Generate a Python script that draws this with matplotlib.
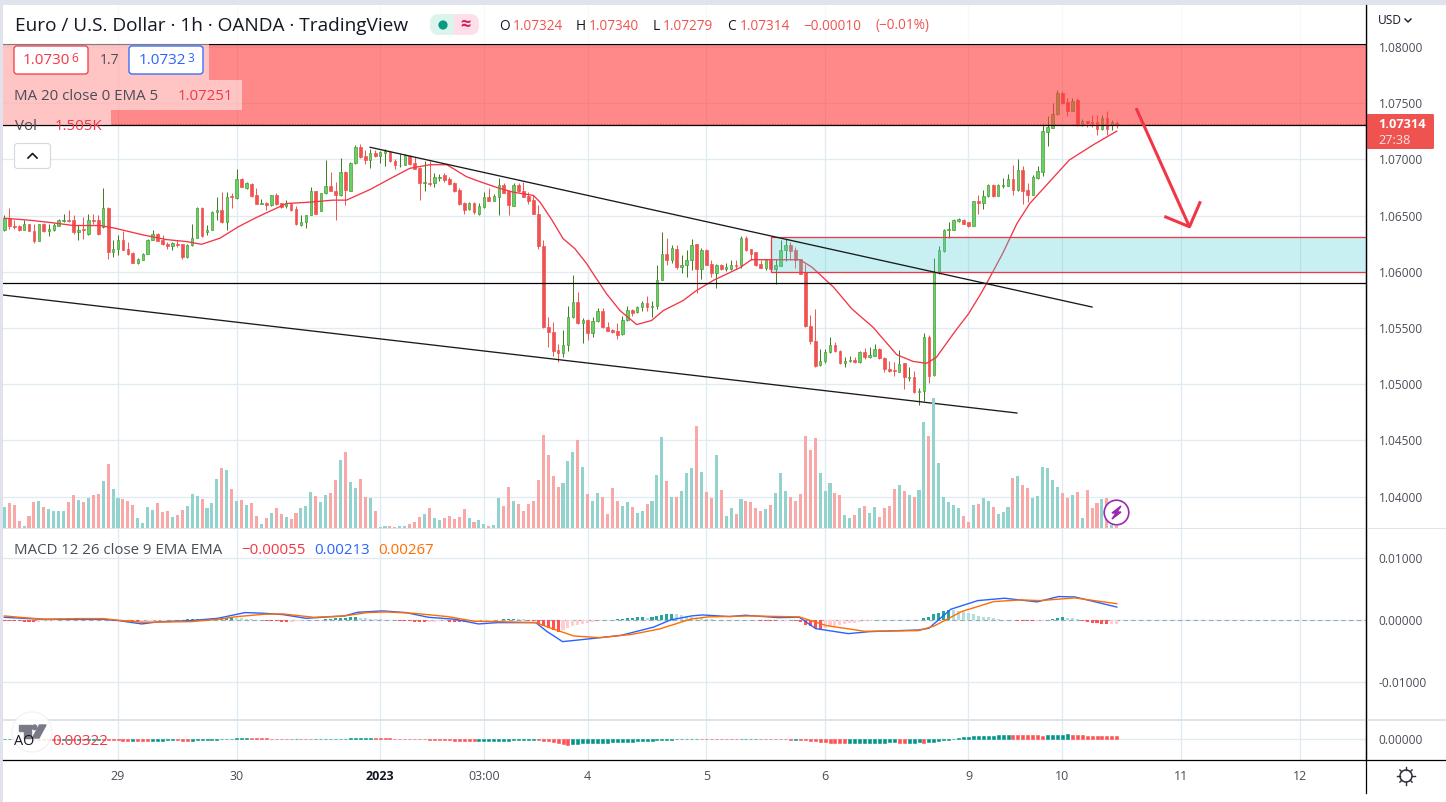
import numpy as np
import matplotlib
matplotlib.use("Agg")
import matplotlib.pyplot as plt
from matplotlib.patches import FancyBboxPatch, Circle, Polygon, Rectangle

plt.rcParams['font.family'] = ['Open Sans', 'DejaVu Sans']

W, H = 1446, 802

# candles, in pips above 1.0600, hourly bars
body_top = [48.2,48.2,41.1,41.1,42.3,42.3,36.3,42.3,42.3,38.1,
            41.7,45.8,46.4,46.4,45.8,37.5,38.1,46.4,46.4,46.4,
            57.1,57.1,20.5,28.6,28.6,20.5,17.0,11.6,16.1,28.6,
            33.9,33.9,28.6,25.0,25.6,25.0,24.4,23.5,30.4,56.3,
            56.3,37.5,53.0,54.8,54.8,66.7,67.3,82.1,82.1,78.6,
            78.0,67.9,60.7,60.7,67.9,67.9,60.7,60.7,60.1,55.4,
            44.6,50.3,71.4,71.4,69.6,76.2,76.2,72.0,88.7,88.7,
            97.0,111.3,111.3,103.0,105.4,106.0,106.5,107.1,106.5,98.2,
            95.2,103.6,103.0,96.4,92.6,79.8,79.2,83.9,84.5,85.7,
            82.1,78.6,72.6,61.3,61.3,61.3,58.3,66.1,66.1,67.3,
            76.8,76.8,72.0,76.8,77.4,72.0,67.3,63.7,51.8,23.2,
            -49.4,-53.3,-69.3,-65.2,-39.9,-26.8,-26.8,-42.8,-42.8,-43.4,
            -34.5,-34.5,-48.8,-51.8,-52.4,-42.8,-33.9,-33.9,-31.5,-27.4,
            -27.4,-30.3,-7.1,15.5,15.5,21.1,20.5,6.3,10.1,24.1,
            24.4,19.0,19.0,7.1,5.7,5.7,3.9,6.3,6.3,30.1,
            30.1,19.9,17.3,7.1,10.7,10.7,5.7,19.6,23.5,23.5,
            19.0,11.0,-0.3,-47.9,-61.3,-79.2,-71.1,-64.9,-64.9,-70.2,
            -79.2,-78.3,-78.3,-71.1,-71.1,-74.1,-68.7,-68.7,-76.5,-86.3,
            -87.8,-82.1,-81.5,-93.4,-93.4,-105.9,-57.7,-57.7,-0.3,19.0,
            37.4,38.0,45.8,47.0,46.4,43.8,62.5,62.5,67.3,77.1,
            77.1,77.1,77.1,82.1,82.1,90.5,90.5,72.6,83.9,89.6,
            125.3,128.6,140.2,158.9,158.9,151.2,151.8,152.4,133.9,133.9,
            133.0,133.0,136.6,136.6,133.3,132.4]
body_bot = [36.9,40.5,39.9,36.9,37.5,36.3,27.4,27.4,36.3,36.3,
            36.9,41.1,45.2,45.2,35.1,35.7,36.9,33.3,45.2,33.3,
            39.9,17.6,17.6,20.5,19.6,16.1,8.0,7.7,10.7,16.1,
            28.6,27.4,25.0,22.9,22.6,23.5,13.1,13.1,23.5,30.4,
            31.6,35.1,37.5,53.0,44.3,44.3,66.1,65.2,75.6,74.4,
            67.3,60.1,60.1,59.5,59.5,60.1,57.7,58.9,54.8,42.3,
            41.7,44.3,50.3,51.8,54.2,69.6,72.0,67.9,67.9,72.6,
            72.0,96.4,101.8,99.4,99.4,103.0,103.0,106.0,98.2,95.2,
            94.6,95.2,95.8,91.7,79.2,78.6,78.0,79.2,83.3,81.6,
            78.0,71.4,60.1,54.8,55.4,53.0,51.8,57.7,63.1,63.1,
            66.7,70.2,59.2,58.9,71.4,66.7,63.1,51.8,22.9,-49.4,
            -53.9,-70.2,-72.6,-72.6,-65.2,-40.5,-45.8,-45.8,-54.8,-54.8,
            -44.0,-49.4,-52.4,-53.6,-55.9,-55.3,-42.8,-36.3,-35.7,-31.5,
            -31.5,-31.5,-30.6,-7.1,10.1,10.1,4.2,4.2,6.0,10.1,
            2.7,2.4,6.3,-1.2,-1.2,2.4,2.4,2.7,4.8,5.7,
            19.0,16.1,6.0,3.6,3.0,2.4,2.4,5.1,19.0,18.5,
            10.7,-1.8,-48.5,-61.9,-83.9,-83.3,-79.8,-71.7,-70.8,-81.5,
            -81.5,-79.8,-80.6,-80.6,-76.2,-76.2,-74.7,-76.8,-86.9,-88.7,
            -88.7,-89.0,-94.0,-94.3,-107.4,-107.1,-105.9,-92.5,-92.0,-0.3,
            18.5,37.4,37.4,45.2,42.9,40.5,40.8,61.3,61.3,67.0,
            67.3,67.6,76.5,76.5,72.6,72.6,72.0,68.2,68.2,83.3,
            89.0,124.7,128.3,139.9,150.0,142.9,143.2,130.4,130.4,132.1,
            132.1,127.4,127.1,126.8,130.4,131.4]
highs = [50.3,56.3,45.8,41.4,45.8,42.9,42.9,42.9,43.5,42.3,
         43.5,47.0,51.8,54.8,50.3,41.4,48.8,51.8,51.8,50.3,
         74.1,57.7,28.0,33.0,36.3,26.5,17.6,12.5,16.7,29.5,
         37.5,34.5,32.4,26.5,26.5,28.0,25.0,24.4,42.9,57.7,
         57.7,41.4,54.2,66.7,70.5,71.1,70.2,91.1,83.0,80.1,
         78.6,74.1,64.3,62.2,68.5,69.6,61.3,63.7,60.7,58.3,
         50.3,50.9,75.6,72.0,70.2,99.4,88.7,80.1,100.9,89.9,
         97.9,112.8,113.7,108.3,108.9,108.3,107.7,108.9,107.7,100.0,
         104.8,104.8,103.9,101.8,93.5,98.8,98.2,87.5,86.9,87.5,
         84.5,80.1,74.1,62.2,62.2,62.2,60.7,71.1,74.1,69.0,
         83.0,78.6,72.6,78.6,78.6,80.1,71.1,67.9,59.2,28.0,
         -39.9,-44.9,-64.3,-51.8,-30.1,-3.3,-18.4,-41.1,-42.2,-40.5,
         -32.1,-32.1,-44.9,-51.2,-45.8,-39.3,-30.9,-33.0,-30.9,-25.6,
         -22.0,-25.6,5.7,35.1,29.8,23.5,24.1,14.6,19.6,29.2,
         25.0,21.4,20.5,10.1,6.6,7.1,7.7,10.1,10.1,31.6,
         31.6,20.5,17.9,10.7,11.3,11.6,11.6,28.0,29.5,26.5,
         22.0,11.6,7.1,-38.4,-33.0,-68.7,-68.7,-57.7,-62.5,-69.6,
         -76.2,-74.7,-75.6,-70.2,-67.8,-66.6,-64.3,-67.8,-75.6,-79.2,
         -80.6,-69.3,-80.9,-84.5,-88.7,-103.6,-54.8,-56.5,12.5,22.6,
         38.0,44.3,47.3,48.2,47.0,44.6,62.8,68.2,72.6,78.0,
         77.7,78.0,83.0,86.9,94.9,100.0,94.0,79.2,86.0,94.0,
         132.1,138.7,150.0,161.9,160.7,154.5,154.2,154.5,135.7,134.2,
         139.0,139.6,139.6,142.9,135.1,134.0]
lows = [36.3,38.1,38.4,36.3,36.9,36.3,25.6,27.4,35.4,31.6,
        36.3,40.5,44.6,44.3,33.9,28.6,29.5,32.4,42.9,32.4,
        39.3,11.6,13.1,14.6,19.1,14.6,7.7,7.1,10.1,15.5,
        28.0,27.1,23.5,20.5,19.6,22.0,11.6,12.2,22.9,29.8,
        31.0,32.7,36.9,45.8,43.5,37.5,56.3,64.6,75.0,73.8,
        66.7,60.1,60.1,54.8,58.9,59.5,56.3,57.1,54.2,41.7,
        40.5,38.7,50.3,51.2,53.6,69.0,71.4,45.8,67.3,59.5,
        71.4,95.8,101.2,95.8,92.6,102.4,96.4,94.0,97.6,91.1,
        93.5,94.6,95.2,91.1,63.7,72.0,76.2,75.6,80.4,80.1,
        77.4,70.8,59.5,51.8,54.8,51.8,50.3,57.1,62.5,62.5,
        50.6,69.6,50.6,58.3,70.8,66.1,60.1,51.2,20.2,-50.0,
        -66.7,-74.7,-80.3,-76.2,-70.2,-41.1,-46.4,-63.1,-60.7,-57.7,
        -44.6,-50.0,-53.0,-54.2,-59.5,-55.9,-43.4,-39.0,-36.3,-34.5,
        -35.1,-40.5,-33.0,-7.7,5.7,7.7,2.7,-1.2,-4.8,1.8,
        -19.0,-6.2,5.7,-4.8,-14.3,1.2,0.6,1.8,2.7,3.6,
        18.5,10.1,5.4,3.0,1.2,1.8,-10.7,4.8,9.5,10.1,
        3.6,-2.4,-48.8,-64.3,-85.1,-83.9,-81.2,-72.3,-71.4,-82.1,
        -85.1,-80.3,-81.2,-81.2,-77.4,-76.8,-75.3,-77.4,-89.6,-89.6,
        -92.9,-89.6,-103.9,-97.6,-108.3,-118.4,-114.9,-99.4,-92.5,-2.4,
        17.3,30.4,36.9,44.0,42.3,39.9,40.5,51.2,56.0,66.4,
        66.7,67.3,74.1,75.9,68.2,72.0,60.1,62.2,67.9,82.7,
        85.1,111.9,127.7,139.3,149.4,138.7,142.6,129.8,129.8,129.2,
        129.2,122.0,126.5,121.4,126.2,127.9]
candle_dir = ("grrrgrrgrg" "gggrrgrgrr" "grggrrrggg" "grrrgrrggg" "rgggrgrgrg"
              "rrgrgrrgrr" "gggrggrrgr" "ggrrgrggrr" "ggrrrgrggr" "rrrrgrggrg"
              "grrgrrrrrr" "rrrgggrgrg" "grrrrggrgg" "rgggrgrggg" "rgrrgrggrg"
              "rrrrgrgggr" "rrrrrgggrr" "ggrgrggrrr" "rgrgrggrgg" "ggggrrgrgg"
              "rgggrgrrgg" "ggggrrgrgr" "rrgrgr")

# volume (arbitrary units) and its colour, t = up, r = down
volumes = [63,75,69,21,6,36,78,81,63,57, 51,51,51,78,99,84,78,90,99,102,
           141,192,117,90,87,81,69,30,15,63, 54,75,48,51,33,39,54,66,102,96,
           87,60,75,147,180,174,117,81,84,69, 75,36,12,30,45,60,42,33,27,45,
           60,66,108,96,78,99,105,144,204,228, 138,120,147,93,90,51,3,6,6,3,
           6,6,12,18,33,42,60,30,24,30, 36,27,33,57,30,18,24,12,6,9,
           90,66,123,81,72,51,72,81,144,279, 219,156,123,135,201,228,264,183,102,81,
           105,
           93,42,120,81,66,78,63,45,51,72, 81,159,273,141,93,93,111,165,180,306,
           168,108,90,219,114,36,60,42,87,81, 78,60,51,57,69,105,165,111,93,81,
           102,276,234,270,165,111,135,105,99,39, 30,39,60,66,45,63,33,60,66,117,
           129,111,99,93,114,318,276,390,195,93, 78,69,60,36,18,69,72,90,81,63,
           42,48,63,150,156,129,120,90,96,183, 180,144,123,105,90,99,108,30,114,60,
           75,87,90,9,6]
volume_dir = ("trrrtrrtrt" "tttrrtrtrr" "trttrrrttt" "trrrtrrttt" "rtttrtrtrt"
              "rrtrtrrtrr" "tttrttrrtr" "ttrrtrttrr" "ttrrrtrttr" "rrrrtrttrt"
              "trrtrrrrrr" "rrrtttrtrt" "t"
              "rrrrttrttr" "tttrtrtttr" "trrtrttrtr" "rrrtrtttrr" "rrrrtttrrt"
              "trtrttrrrr" "trtrttrttt" "tttrrtrttr" "tttrtrrttt" "tttrrtrtrr"
              "rtrtr")

# MACD lines, read at bar positions
macd_x = [0,3.8,7.6,14.6,20,23.1,27.8,30.9,37.8,43.2,48.7,52.5,56.4,61,68.8,71.5,76.5,81.2,85.8,91.2,95.9,99.7,107.5,109.8,112.9,117.5,120.5,
          124.8,131.4,134.7,139,141.2,146.7,149.9,156.5,160.8,164.1,170.7,175,184.9,187,191.4,196.9,202.3,208.9,213.2,216.5,225]
macd_y = [.00048,.00032,.00016,.00016,.00016,-.00005,-.00059,-.00027,-.00005,.00032,.00124,.00113,.00091,.00032,.00070,.00129,.00151,.00124,.00048,.00016,-.00059,-.00038,-.00038,-.00183,-.00344,-.00306,-.00280,
          -.00242,-.00108,.00005,.00070,.00086,.00059,.00081,.00043,.00048,-.00134,-.00215,-.00183,-.00156,-.00129,.00177,.00317,.00355,.00296,.00382,.00376,.00213]
signal_x = [0,3.8,8.4,14.6,20,23.1,27.8,37.8,43.2,47.1,52.5,56.4,62.6,68.8,73.4,77.3,82.7,89.7,95.1,99.7,107.5,110.6,115.2,120.5,
            127,132.5,139,142.3,151,160.8,166.3,174,184.9,188.1,193.6,200.1,205.6,209.4,216.5,225]
signal_y = [.00070,.00043,.00016,.00027,.00027,0,-.00032,-.00022,.00016,.00059,.00097,.00102,.00048,.00070,.00124,.00134,.00113,.00059,-.00016,-.00022,-.00038,-.00129,-.00253,-.00280,
            -.00226,-.00140,.00022,.00054,.00070,.00054,-.00086,-.00177,-.00167,-.00091,.00140,.00301,.00328,.00317,.00360,.00267]
# histogram and AO, units of 0.00001
macd_hist = [-6,-10,-14,-18,-22,-24,-26,-22,-18,-14, -10,2,4,5,6,5,4,6,8,6,
             3,0,-6,-12,-16,-22,-28,-32,-26,-20, -14,-8,-4,-2,2,6,10,14,18,20,
             24,26,28,30,34,40,46,44,36,28, 20,12,-3,-6,-10,-16,-22,-26,-22,-14,
             -8,-2,4,8,12,16,22,30,36,40, 46,52,44,36,28,22,16,10,6,-2,
             -6,-12,-18,-24,-28,-30,-26,-22,-18,-16, -20,-26,-30,-34,-30,-24,-18,-10,-4,4,
             8,14,18,22,20,14,-4,-10,-60,-95, -130,-160,-190,-160,-130,-100,-75,-55,-40,-28,
             4,6,8,10,20,28,34,40,46,50, 42,56,70,85,95,105,95,80,66,52,
             42,32,24,16,10,6,3,4,6,8, 10,12,8,-4,-8,-12,-16,-10,-6,-2,
             -4,-30,-70,-100,-125,-140,-120,-100,-85,-70, -58,-46,-36,-26,-16,-10,3,6,8,10,
             9,7,6,5,8,12,30,60,95,125, 150,170,165,150,130,110,95,75,58,45,
             32,20,12,6,3,-4,-6,-12,-18,-14, -6,10,25,40,52,40,30,16,-10,-25,
             -40,-48,-52,-55,-55,-55]
ao_vals = [20,30,20,10,0,-10,-20,-30,-40,-50, -60,-70,-70,-70,-80,-80,-90,-90,-80,-70,
           -80,-90,-100,-110,-120,-130,-120,-130,-140,-150, -140,-130,-120,-110,-100,-110,-120,-130,-120,-110,
           -100,-80,-50,-20,20,50,80,110,140,160, 150,130,110,90,70,50,30,10,0,10,
           5,0,-5,0,10,20,30,30,40,70, 90,110,130,150,170,160,140,120,100,80,
           60,40,20,10,0,-10,-20,-30,-40,-50, -80,-120,-150,-170,-180,-190,-185,-175,-165,-155,
           -145,-135,-125,-115,-105,-95,-90,-85,-95,-120, -180,-260,-340,-500,-520,-480,-440,-400,-380,-360,
           -340,-330,-320,-300,-290,-280,-260,-230,-210,-190, -160,-130,-100,-70,-50,-20,10,30,50,60,
           70,65,60,55,50,45,40,38,30,35, 40,45,50,40,30,20,10,0,-10,-20,
           -20,-30,-60,-120,-180,-240,-300,-360,-370,-380, -400,-390,-380,-370,-360,-350,-340,-330,-320,-310,
           -300,-320,-340,-330,-320,-310,-330,-300,-260,-200, -100,-20,60,140,210,280,320,340,360,370,
           380,400,420,440,430,420,410,400,395,385, 380,390,420,450,480,490,470,440,410,380,
           360,350,340,335,330,322]

# moving average, read at bar positions, pips above 1.0600
ma_x = [0,5.2,9.9,14,19.4,22.4,28.1,32.8,36.9,39.9,43.6,47.3,50.4,53,57.1,61.8,66.5,69.2,74,78,82,86.1,89.5,93.5,96.2,
        99.6,102.9,107,108.3,110.7,113,115.4,117.8,119.1,121.8,124.5,127.9,130.9,133.3,137.3,140,143.4,148.8,151.1,155.5,160.9,163.3,167.7,171.4,175.7,180.5,183.8,186.5,188.5,
        192.4,195,197.5,199,201.9,204.8,207.4,211.4,215.4,220.2,225]
ma_y = [47.6,45.8,43.5,41.1,41.1,38.7,32.7,28.6,26.8,24.4,29.8,39.9,47.0,52.4,60.7,61.9,63.7,63.7,73.2,82.7,92.0,95.2,95.2,84.5,80.1,
        75.0,70.8,67.9,62.2,46.4,29.5,20.5,7.1,-1.8,-19.6,-34.5,-47.0,-43.4,-34.5,-25.6,-16.7,-7.7,3.6,10.7,10.7,10.7,4.2,-13.7,-33.0,-49.4,-73.8,-79.8,-81.5,-76.2,
        -52.4,-37.5,-19.6,-7.7,16.1,42.9,60.7,80.1,99.4,112.8,125.1]

price_ticks = [1.04, 1.045, 1.05, 1.055, 1.06, 1.065, 1.07, 1.075, 1.08]
macd_ticks = [-0.01, 0.0, 0.01]
time_ticks = [23, 47, 76, 97, 118, 142, 166, 195, 214, 238, 262]
time_labels = ['29', '30', '2023', '03:00', '4', '5', '6', '9', '10', '11', '12']

# drawings, (bar, price)
upper_trend = ([74, 220], [1.07107, 1.05686])
lower_trend = ([-0.26, 204.8], [1.05793, 1.04743])
arrow_shaft = ([228.9, 239.7], [1.07456, 1.0640])
arrow_head = ([234.9, 239.7, 241.8], [1.06487, 1.0640, 1.06614])
supply_zone = (1.07305, 1.0803)
demand_zone = (1.0600, 1.0631)
demand_start = 155
support_level = 1.0590
last_price = 1.07314

GRID = '#e1ecf2'
TXT = '#4a4d57'
RED = '#ef5350'
STEEP = '#f23645'


def pane(x0, y0, x1, y1):
    ax = fig.add_axes([x0 / W, 1 - y1 / H, (x1 - x0) / W, (y1 - y0) / H])
    for s in ['top', 'left', 'bottom']:
        ax.spines[s].set_visible(False)
    ax.spines['right'].set_color('black')
    ax.spines['right'].set_linewidth(0.9)
    ax.patch.set_alpha(0)
    ax.set_xlim(-0.263, 275.4)
    ax.set_xticks(time_ticks)
    ax.set_xticklabels([])
    ax.yaxis.tick_right()
    ax.tick_params(length=0, labelsize=8.6, labelcolor=TXT, pad=9)
    ax.grid(True, color=GRID, linewidth=0.95)
    ax.set_axisbelow(True)
    return ax


fig = plt.figure(figsize=(W / 100, H / 100), dpi=100, facecolor='white')
bars = np.arange(len(body_top))

# price pane
ax = pane(3, 5, 1366, 528)
ax.set_ylim(1.03720, 1.08373)
ax.set_yticks(price_ticks)
ax.set_yticklabels(['%.5f' % t for t in price_ticks])

top = 1.06 + np.array(body_top) / 1e4
bot = 1.06 + np.array(body_bot) / 1e4
hi = 1.06 + np.array(highs) / 1e4
lo = 1.06 + np.array(lows) / 1e4
is_up = np.array([c == 'g' for c in candle_dir])

ax.vlines(bars[is_up], lo[is_up], hi[is_up], color='#3a7a1c', linewidth=0.7, zorder=2)
ax.vlines(bars[~is_up], lo[~is_up], hi[~is_up], color=RED, linewidth=0.7, zorder=2)
ax.bar(bars[is_up], (top - bot)[is_up], bottom=bot[is_up], width=0.5, color='#66d166',
       edgecolor='#4c9a34', linewidth=0.5, zorder=2.5)
ax.bar(bars[~is_up], (top - bot)[~is_up], bottom=bot[~is_up], width=0.56, color=RED,
       edgecolor=RED, linewidth=0.5, zorder=2.5)
ax.plot(ma_x, 1.06 + np.array(ma_y) / 1e4, color=STEEP, linewidth=0.95, zorder=3)

# zones go over the candles
ax.axhspan(supply_zone[0], supply_zone[1], color='#ff3b3b', alpha=0.6, linewidth=0, zorder=4)
ax.fill_between([demand_start, 275.4], demand_zone[0], demand_zone[1], color='#4bd0da', alpha=0.3,
                linewidth=0, zorder=4)
ax.plot([275.4, demand_start, demand_start, 275.4],
        [demand_zone[1], demand_zone[1], demand_zone[0], demand_zone[0]], color=STEEP, linewidth=0.9, zorder=5)
ax.axhline(last_price, color=RED, linewidth=0.8, linestyle=':', zorder=5)
ax.axhline(supply_zone[0], color='black', linewidth=0.9, zorder=5)
ax.axhline(supply_zone[1], color='black', linewidth=0.9, zorder=5)
ax.axhline(support_level, color='black', linewidth=0.9, zorder=5)
ax.plot(upper_trend[0], upper_trend[1], color='#1a1a1a', linewidth=0.95, zorder=6)
ax.plot(lower_trend[0], lower_trend[1], color='#1a1a1a', linewidth=0.95, zorder=6)
ax.plot(arrow_shaft[0], arrow_shaft[1], color=STEEP, linewidth=2.2, zorder=6, solid_capstyle='butt')
ax.plot(arrow_head[0], arrow_head[1], color=STEEP, linewidth=2.2, zorder=6)

# volume sits on the bottom of the price pane
ax_vol = fig.add_axes(ax.get_position(), zorder=ax.get_zorder() + 1)
ax_vol.set_xlim(ax.get_xlim())
ax_vol.set_ylim(0, 523 * 3)
ax_vol.axis('off')
vol_cols = ['#92d3cd' if c == 't' else '#f8a9a7' for c in volume_dir]
ax_vol.bar(bars, volumes, width=0.62, color=vol_cols)

# MACD pane
ax_macd = pane(3, 529, 1366, 719)
ax_macd.set_ylim(-0.0159, 0.0147)
ax_macd.set_yticks(macd_ticks)
ax_macd.set_yticklabels(['-0.01000', '0.00000', '0.01000'])
ax_macd.axhline(0, color='#9aa7b5', linewidth=0.8, linestyle=(0, (4, 3)), zorder=1)
hist = np.array(macd_hist) / 1e5
hist_cols = []
for i, v in enumerate(hist):
    rising = i > 0 and v >= hist[i - 1]
    if v >= 0:
        hist_cols.append('#26a69a' if rising else '#b2dfdb')
    else:
        hist_cols.append('#ffcdd2' if rising else '#ff5252')
ax_macd.bar(bars, hist, width=0.62, color=hist_cols, zorder=2)
ax_macd.plot(macd_x, macd_y, color='#2962ff', linewidth=1.0, zorder=3)
ax_macd.plot(signal_x, signal_y, color='#ff6d00', linewidth=1.0, zorder=4)

# AO pane
ax_ao = pane(3, 721, 1366, 760)
ax_ao.set_ylim(-0.0207, 0.0183)
ax_ao.set_yticks([0.0])
ax_ao.set_yticklabels(['0.00000'])
ao = np.array(ao_vals) / 1e5
ao_cols = ['#009688' if i == 0 or v >= ao[i - 1] else '#ff5252' for i, v in enumerate(ao)]
# edge keeps the near-zero bars visible as dashes
ax_ao.bar(bars, ao, width=0.6, color=ao_cols, edgecolor=ao_cols, linewidth=0.4, zorder=2)
ax_ao.set_xticklabels(time_labels)
ax_ao.tick_params(axis='x', labelsize=9, pad=7)
for lab in ax_ao.get_xticklabels():
    if lab.get_text() == '2023':
        lab.set_fontweight('bold')
        lab.set_color('#131722')

# overlay in pixels for everything that is screen furniture
ov = fig.add_axes([0, 0, 1, 1], zorder=20)
ov.set_xlim(0, W)
ov.set_ylim(H, 0)
ov.axis('off')
ov.add_patch(Rectangle((0, 0), W, 5, color='#e0e3eb', linewidth=0))
ov.add_patch(Rectangle((0, 0), 3, H, color='#e0e3eb', linewidth=0))
ov.add_patch(Rectangle((3, 528), W - 3, 1.4, color='#e0e3eb', linewidth=0))
ov.add_patch(Rectangle((3, 719), W - 3, 2, color='#e0e3eb', linewidth=0))
ov.plot([3, W], [760, 760], color='black', linewidth=0.9)
ov.plot([1366, 1366], [5, 793], color='black', linewidth=0.9)

# title row
ov.add_patch(Rectangle((3, 5), 1363, 38.5, color='white', alpha=0.75, linewidth=0))
ov.text(15, 26, 'Euro / U.S. Dollar · 1h · OANDA · TradingView', fontsize=13.7, color='#131722',
        va='center', ha='left')
ov.add_patch(FancyBboxPatch((454, 14), 25, 21, boxstyle='round,pad=0,rounding_size=9', color='#fcdfe8', linewidth=0))
ov.add_patch(FancyBboxPatch((430, 14), 24, 21, boxstyle='round,pad=0,rounding_size=9', color='#dcf3ee', linewidth=0))
ov.add_patch(Rectangle((443, 14), 11, 21, color='#dcf3ee', linewidth=0))
ov.add_patch(Rectangle((454, 14), 11, 21, color='#fcdfe8', linewidth=0))
ov.add_patch(Circle((443, 25), 4.6, color='#089981', linewidth=0))
ov.text(465, 25, '≈', fontsize=13, color='#d81b60', va='center', ha='center', fontweight='bold')

ohlc = [(499, 'O', '#131722'), (513, '1.07324', RED), (576, 'H', '#131722'), (589, '1.07340', RED),
        (653, 'L', '#131722'), (663, '1.07279', RED), (727, 'C', '#131722'), (739.5, '1.07314', RED),
        (803, '−0.00010', RED), (875, '(−0.01%)', RED)]
for x, s, c in ohlc:
    ov.text(x, 26, s, fontsize=9.8, color=c, va='center', ha='left')

# legend rows over the chart
ov.add_patch(Rectangle((3, 44), 206, 36, color='white', alpha=0.5, linewidth=0))
ov.add_patch(Rectangle((3, 80), 239, 30, color='white', alpha=0.5, linewidth=0))
ov.add_patch(Rectangle((3, 110), 108, 15, color='white', alpha=0.5, linewidth=0))
ov.add_patch(FancyBboxPatch((14, 46), 74, 28, boxstyle='round,pad=0,rounding_size=3', facecolor='white',
                            edgecolor=STEEP, linewidth=0.9))
ov.add_patch(FancyBboxPatch((129, 46), 74, 28, boxstyle='round,pad=0,rounding_size=3', facecolor='white',
                            edgecolor='#2962ff', linewidth=0.9))
ov.text(23, 61, '1.0730', fontsize=11, color=STEEP, va='center')
ov.text(71.5, 59, '6', fontsize=8.6, color=STEEP, va='center')
ov.text(100, 60.5, '1.7', fontsize=10, color='#4a4d57', va='center')
ov.text(139, 61, '1.0732', fontsize=11, color='#2962ff', va='center')
ov.text(187, 59, '3', fontsize=8.6, color='#2962ff', va='center')
ov.text(14, 96, 'MA 20 close 0 EMA 5', fontsize=10.8, color=TXT, va='center')
ov.text(178, 96, '1.07251', fontsize=10.8, color=STEEP, va='center')
ov.text(15, 126, 'Vol', fontsize=10.8, color=TXT, va='center')
ov.text(55, 126, '1.505K', fontsize=10.8, color=STEEP, va='center')
ov.add_patch(FancyBboxPatch((14.5, 143.5), 36, 25, boxstyle='round,pad=0,rounding_size=3', facecolor='white',
                            edgecolor='#d6d8de', linewidth=0.8))
ov.plot([28, 32.5, 37], [158, 153.5, 158], color='#131722', linewidth=1.2)

ov.text(14, 550, 'MACD 12 26 close 9 EMA EMA', fontsize=10.8, color=TXT, va='center')
ov.text(241, 550, '−0.00055', fontsize=10.8, color=STEEP, va='center')
ov.text(314, 550, '0.00213', fontsize=10.8, color='#2962ff', va='center')
ov.text(378, 550, '0.00267', fontsize=10.8, color='#ff6d00', va='center')

# TV logo and AO legend
ov.add_patch(Circle((32, 732), 20, facecolor='white', edgecolor='#eeeeee', alpha=0.85, linewidth=0.8))
ov.add_patch(Polygon([(19, 725), (30.5, 725), (30.5, 738), (24, 738), (24, 730.5), (19, 730.5)], color='#787b86'))
ov.add_patch(Circle((34.5, 727.3), 2.3, color='#787b86'))
ov.add_patch(Polygon([(39.5, 725), (46, 725), (39, 738), (32.5, 738)], color='#787b86'))
ov.text(14, 741.5, 'AO', fontsize=10.4, color='#131722', va='center')
ov.text(52, 741.5, '0.00322', fontsize=11, color=STEEP, va='center')

# lightning badge
ov.add_patch(Circle((1116.5, 512.5), 12.3, facecolor='white', edgecolor='#9c27b0', linewidth=1.2))
ov.add_patch(Polygon([(1121, 506), (1112, 513), (1116, 513), (1112, 519), (1121, 512), (1117, 512)], color='#9c27b0'))

# last price tag
ov.add_patch(FancyBboxPatch((1366, 114), 68, 35, boxstyle='round,pad=0,rounding_size=1.5', color=RED, linewidth=0))
ov.text(1378, 124, '1.07314', fontsize=9.2, color='white', va='center', fontweight='bold')
ov.text(1378, 140, '27:38', fontsize=9.2, color='#fde3e2', va='center')

# currency and settings
ov.text(1378, 21, 'USD', fontsize=8.6, color='#131722', va='center')
ov.plot([1405, 1408, 1411], [19, 22, 19], color='#131722', linewidth=1.0)
ov.add_patch(Circle((1406, 776), 6, facecolor='white', edgecolor='#2a2e39', linewidth=1.1))
for a in np.arange(0, 2 * np.pi, np.pi / 4):
    ov.plot([1406 + 6 * np.cos(a), 1406 + 8.6 * np.cos(a)], [776 + 6 * np.sin(a), 776 + 8.6 * np.sin(a)],
            color='#2a2e39', linewidth=1.0)

fig.savefig('out.png', dpi=100)
